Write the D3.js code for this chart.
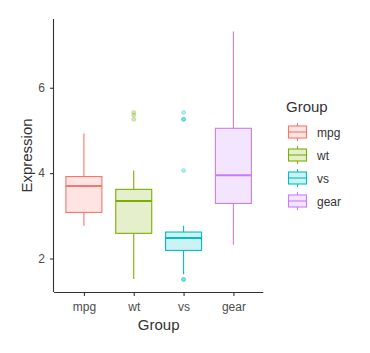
<!DOCTYPE html>
<html>
<head>
<meta charset="utf-8">
<script src="https://cdn.jsdelivr.net/npm/d3@7"></script>
<style>
  body { margin: 0; background: #fff; }
  text { font-family: "Liberation Sans", Arial, sans-serif; }
</style>
</head>
<body>
<div id="chart"></div>
<script>
// groups and box summaries
var groups = ["mpg", "wt", "vs", "gear"];
var colors = ["#F8766D", "#7CAE00", "#00BFC4", "#C77CFF"];
var lowWhisker = [2.77, 1.52, 1.63, 2.32];
var q1 = [3.08, 2.59, 2.19, 3.29];
var median = [3.70, 3.35, 2.48, 3.95];
var q3 = [3.92, 3.62, 2.62, 5.05];
var highWhisker = [4.93, 4.06, 2.77, 7.32];
var outliers = [[], [5.42, 5.36, 5.26], [5.42, 5.26, 5.26, 4.06, 1.51, 1.51], []];
var yTicks = [2, 4, 6];

var width = 370, height = 353;
var panel = {left: 54, right: 263.3, top: 19, bottom: 292};

var svg = d3.select("#chart").append("svg")
    .attr("width", width)
    .attr("height", height)
    .style("background", "#fff");

var x = d3.scalePoint()
    .domain(groups)
    .range([panel.left, panel.right])
    .padding(0.6);

var y = d3.scaleLinear()
    .domain([1.2155, 7.6105])
    .range([panel.bottom, panel.top]);

var boxW = 36;

var boxes = svg.selectAll("g.box")
    .data(groups)
    .enter()
    .append("g")
    .attr("class", "box");

// whiskers
boxes.append("line")
    .attr("x1", function (d) { return x(d); })
    .attr("x2", function (d) { return x(d); })
    .attr("y1", function (d, i) { return y(highWhisker[i]); })
    .attr("y2", function (d, i) { return y(q3[i]); })
    .attr("stroke", function (d, i) { return colors[i]; })
    .attr("stroke-width", 1.1);
boxes.append("line")
    .attr("x1", function (d) { return x(d); })
    .attr("x2", function (d) { return x(d); })
    .attr("y1", function (d, i) { return y(q1[i]); })
    .attr("y2", function (d, i) { return y(lowWhisker[i]); })
    .attr("stroke", function (d, i) { return colors[i]; })
    .attr("stroke-width", 1.1);

// box
boxes.append("rect")
    .attr("x", function (d) { return x(d) - boxW / 2; })
    .attr("y", function (d, i) { return y(q3[i]); })
    .attr("width", boxW)
    .attr("height", function (d, i) { return y(q1[i]) - y(q3[i]); })
    .attr("fill", function (d, i) { return colors[i]; })
    .attr("fill-opacity", 0.2)
    .attr("stroke", function (d, i) { return colors[i]; })
    .attr("stroke-width", 1.1);

// median
boxes.append("line")
    .attr("x1", function (d) { return x(d) - boxW / 2; })
    .attr("x2", function (d) { return x(d) + boxW / 2; })
    .attr("y1", function (d, i) { return y(median[i]); })
    .attr("y2", function (d, i) { return y(median[i]); })
    .attr("stroke", function (d, i) { return colors[i]; })
    .attr("stroke-width", 2);

// outliers
boxes.each(function (d, i) {
    d3.select(this).selectAll("circle")
        .data(outliers[i])
        .enter()
        .append("circle")
        .attr("cx", x(d))
        .attr("cy", function (v) { return y(v); })
        .attr("r", 2)
        .attr("fill", colors[i])
        .attr("fill-opacity", 0.3)
        .attr("stroke", colors[i])
        .attr("stroke-opacity", 0.35)
        .attr("stroke-width", 0.8);
});

// axes
var xAxis = svg.append("g")
    .attr("transform", "translate(0," + panel.bottom + ")")
    .call(d3.axisBottom(x).tickSize(4).tickPadding(6).tickSizeOuter(0));
xAxis.select(".domain").attr("d", "M" + panel.left + ",0.5H" + panel.right);

var yAxis = svg.append("g")
    .attr("transform", "translate(" + panel.left + ",0)")
    .call(d3.axisLeft(y).tickValues(yTicks).tickFormat(d3.format("d"))
        .tickSize(4).tickPadding(5).tickSizeOuter(0));
yAxis.select(".domain").attr("d", "M-0.5," + panel.top + "V" + panel.bottom);

svg.selectAll(".domain").attr("stroke", "#333").attr("stroke-width", 1.1);
svg.selectAll(".tick line").attr("stroke", "#333").attr("stroke-width", 1.1);
svg.selectAll(".tick text")
    .attr("fill", "#4D4D4D")
    .style("font-size", "12px")
    .style("font-family", "Liberation Sans, Arial, sans-serif");

// axis titles
svg.append("text")
    .attr("x", (panel.left + panel.right) / 2)
    .attr("y", 330)
    .attr("text-anchor", "middle")
    .attr("fill", "#333")
    .style("font-size", "15px")
    .text("Group");

svg.append("text")
    .attr("transform", "translate(32," + (panel.top + panel.bottom) / 2 + ")rotate(-90)")
    .attr("text-anchor", "middle")
    .attr("fill", "#333")
    .style("font-size", "15px")
    .text("Expression");

// legend
var legend = svg.append("g").attr("transform", "translate(286,0)");
legend.append("text")
    .attr("x", 0)
    .attr("y", 112)
    .attr("fill", "#333")
    .style("font-size", "15px")
    .text("Group");

var keys = legend.selectAll("g.key")
    .data(groups)
    .enter()
    .append("g")
    .attr("class", "key")
    .attr("transform", function (d, i) { return "translate(0," + (132 + i * 23) + ")"; });

keys.append("line")
    .attr("x1", 11.5).attr("x2", 11.5)
    .attr("y1", -9).attr("y2", 9)
    .attr("stroke", function (d, i) { return colors[i]; })
    .attr("stroke-width", 1.1);
keys.append("rect")
    .attr("x", 2.5).attr("y", -6)
    .attr("width", 18).attr("height", 12)
    .attr("fill", "#fff");
keys.append("rect")
    .attr("x", 2.5).attr("y", -6)
    .attr("width", 18).attr("height", 12)
    .attr("fill", function (d, i) { return colors[i]; })
    .attr("fill-opacity", 0.2)
    .attr("stroke", function (d, i) { return colors[i]; })
    .attr("stroke-width", 1.1);
keys.append("line")
    .attr("x1", 2.5).attr("x2", 20.5)
    .attr("y1", 0).attr("y2", 0)
    .attr("stroke", function (d, i) { return colors[i]; })
    .attr("stroke-width", 1.1);
keys.append("text")
    .attr("x", 31)
    .attr("y", 4.5)
    .attr("fill", "#333")
    .style("font-size", "12px")
    .text(function (d) { return d; });
</script>
</body>
</html>
